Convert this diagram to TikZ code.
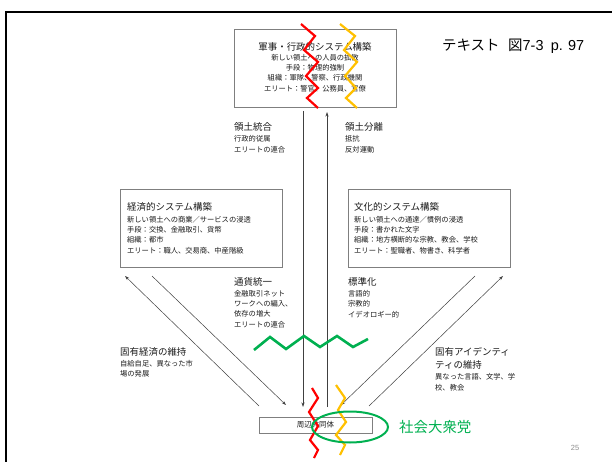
\documentclass[tikz,border=0pt]{standalone}
\usepackage{fontspec}
\setmainfont{Noto Sans CJK JP}
\newfontfamily\lat{Liberation Sans}
\usetikzlibrary{arrows.meta}
\definecolor{zgreen}{HTML}{00B050}
\definecolor{zred}{HTML}{FF0000}
\definecolor{zyel}{HTML}{FFC000}
\definecolor{boxc}{HTML}{7F7F7F}
\definecolor{txt}{HTML}{1A1A1A}
\tikzset{
  sysbox/.style={draw=boxc, line width=0.9bp, fill=white, inner sep=0pt},
  ttl/.style={font=\fontsize{9.5}{12}\selectfont, text=txt, inner sep=0pt},
  bodytxt/.style={font=\fontsize{7.3}{10.3}\selectfont, text=txt, inner sep=0pt, align=left},
  conn/.style={draw=black!75, line width=0.5bp, -{Stealth[length=4.5bp,width=3bp]}},
  zig/.style={line width=2.2bp, line join=miter},
}
\begin{document}
\begin{tikzpicture}[x=1bp,y=-1bp]
\useasboundingbox (0,0) rectangle (612,462);
% frame
\draw[line width=2.2bp] (6,462) -- (6,12) -- (612,12);

% boxes
\node[sysbox, minimum width=162bp, minimum height=78bp] (mil) at (315,68) {};
\node[sysbox, minimum width=162bp, minimum height=78bp] (eco) at (201,228) {};
\node[sysbox, minimum width=162bp, minimum height=78bp] (cul) at (429,228) {};
\node[sysbox, minimum width=113bp, minimum height=16bp] (per) at (315.5,425) {};

% box texts
\node[ttl] (milT) at (315,47) {軍事・行政的システム構築};
\node[bodytxt, align=center] (milB) at (315,73) {新しい領土への人員の拡散\\手段：物理的強制\\組織：軍隊、警察、行政機関\\エリート：警官、公務員、官僚};
\node[ttl, anchor=west] (ecoT) at (127,207) {経済的システム構築};
\node[bodytxt, anchor=west] (ecoB) at (127,235) {新しい領土への商業／サービスの浸透\\手段：交換、金融取引、貨幣\\組織：都市\\エリート：職人、交易商、中産階級};
\node[ttl, anchor=west] (culT) at (354,207) {文化的システム構築};
\node[bodytxt, anchor=west] (culB) at (354,235) {新しい領土への通達／慣例の浸透\\手段：書かれた文字\\組織：地方横断的な宗教、教会、学校\\エリート：聖職者、物書き、科学者};
\node[bodytxt, align=center, font=\fontsize{7.5}{10}\selectfont] (perT) at (per) {周辺共同体};

% labels
\node[ttl, anchor=west] (l1T) at (234,127) {領土統合};
\node[bodytxt, anchor=west, font=\fontsize{7.3}{11}\selectfont] (l1B) at (234,144.5) {行政的従属\\エリートの連合};
\node[ttl, anchor=west] (l2T) at (345,127) {領土分離};
\node[bodytxt, anchor=west, font=\fontsize{7.3}{11}\selectfont] (l2B) at (345,144.5) {抵抗\\反対運動};
\node[ttl, anchor=west] (l3T) at (234,282) {通貨統一};
\node[bodytxt, anchor=west] (l3B) at (234,309) {金融取引ネット\\ワークへの編入、\\依存の増大\\エリートの連合};
\node[ttl, anchor=west] (l4T) at (348,282) {標準化};
\node[bodytxt, anchor=west] (l4B) at (348,304) {言語的\\宗教的\\イデオロギー的};
\node[ttl, anchor=west] (l5T) at (120,352) {固有経済の維持};
\node[bodytxt, anchor=west] (l5B) at (120,369) {自給自足、異なった市\\場の発展};
\node[ttl, anchor=west, align=left, font=\fontsize{9.5}{13}\selectfont] (l6T) at (435,358.5) {固有アイデンティ\\ティの維持};
\node[bodytxt, anchor=west, font=\fontsize{7.3}{11}\selectfont] (l6B) at (435,382.5) {異なった言語、文学、学\\校、教会};

% title and page number
\node[anchor=west, inner sep=0pt, font=\fontsize{14.5}{16}\selectfont] (ttl) at (442,46) {テキスト\hspace{0.6em}図{\lat 7-3\hspace{0.5em}p. 97}};
\node[inner sep=0pt, text=black!45, font=\lat\fontsize{7.5}{9}\selectfont] (pg) at (575,448) {25};

% connectors
\coordinate (dA1) at (303,111); \coordinate (dA2) at (303,407);
\coordinate (uA1) at (327,407); \coordinate (uA2) at (327,112);
\coordinate (l1s) at (259,406); \coordinate (l1e) at (125,276);
\coordinate (l2s) at (152,276); \coordinate (l2e) at (286,405);
\coordinate (r1s) at (475,276); \coordinate (r1e) at (341,405);
\coordinate (r2s) at (369,406); \coordinate (r2e) at (503,276);
\draw[conn] (dA1) -- (dA2);
\draw[conn] (uA1) -- (uA2);
\draw[conn] (l1s) -- (l1e);
\draw[conn] (l2s) -- (l2e);
\draw[conn] (r1s) -- (r1e);
\draw[conn] (r2s) -- (r2e);

% zigzags
\draw[zig, zred] (301,24) -- (315,36) -- (304,50) -- (318,62) -- (306,76) -- (318,88) -- (307,98) -- (318,108);
\draw[zig, zyel] (340,24) -- (355,36) -- (344,50) -- (357,62) -- (345,76) -- (356,88) -- (346,98) -- (357,108);
\draw[zig, zred] (312,388) -- (318,398) -- (309,412) -- (318,426) -- (310,440) -- (318,450) -- (314,458);
\draw[zig, zyel] (336,385) -- (345,398) -- (338,410) -- (346,422) -- (336,435) -- (345,445) -- (340,455);
\draw[zig, zgreen, line width=2.6bp] (254,350) -- (270,337) -- (286,349) -- (304,336) -- (320,347) -- (337,336) -- (353,347) -- (368,339);

% ellipse and party name
\draw[zgreen, line width=2bp] (350,427) ellipse [x radius=38, y radius=15.5];
\node[anchor=west, inner sep=0pt, text=zgreen, font=\fontsize{14.5}{16}\selectfont] (party) at (399,427) {社会大衆党};
\end{tikzpicture}
\end{document}
